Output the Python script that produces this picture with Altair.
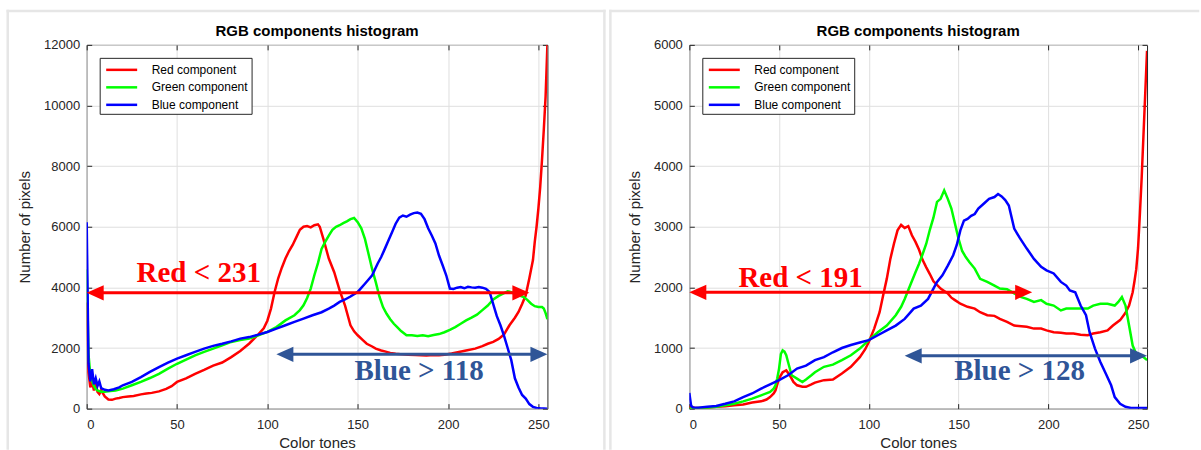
import altair as alt
import pandas as pd

SANS = "Liberation Sans"
SERIF = "Liberation Serif"
INK = "#262626"
GRID = "#dfdfdf"
FRAME = "#e6e6e6"

components = ["Red component", "Green component", "Blue component"]
component_colors = ["#ff0000", "#00ff00", "#0000ff"]
tone_ticks = [0, 50, 100, 150, 200, 250]
chart_title = "RGB components histogram"

# ---------------- first image: per-channel pixel counts ----------------
a_red_tone = [0, 1, 2, 3, 4, 5, 6, 7, 8, 10, 12, 14, 16, 18, 20, 23, 26, 30, 33, 36,
              40, 44, 47, 50, 55, 60, 65, 70, 75, 80, 85, 90, 95, 98, 100, 102, 104,
              106, 108, 110, 112, 114, 116, 118, 120, 122, 124, 126, 128, 129, 131,
              134, 137, 140, 143, 146, 148, 150, 153, 155, 158, 160, 163, 165, 168,
              171, 175, 178, 182, 185, 188, 192, 195, 198, 202, 206, 210, 215, 219,
              222, 225, 228, 231, 234, 237, 239, 241, 243, 245, 247, 248, 249, 250,
              251, 252, 253, 254, 255]
a_red_count = [3500, 1200, 700, 900, 600, 800, 550, 480, 600, 400, 300, 290, 330, 350,
               380, 400, 420, 470, 500, 520, 570, 650, 740, 880, 1000, 1150, 1280,
               1420, 1520, 1700, 1900, 2150, 2450, 2650, 2900, 3300, 3850, 4300, 4650,
               4950, 5200, 5400, 5650, 5900, 6000, 6020, 5980, 6050, 6080, 6000, 5600,
               4950, 4500, 3900, 3400, 2750, 2550, 2420, 2250, 2140, 2050, 1980, 1920,
               1890, 1840, 1810, 1790, 1780, 1770, 1760, 1750, 1770, 1760, 1780, 1820,
               1870, 1920, 1980, 2060, 2140, 2200, 2300, 2450, 2750, 3000, 3190, 3450,
               3740, 4300, 4900, 5500, 6000, 6600, 7300, 8200, 9200, 10300, 12000]

a_green_tone = [0, 1, 2, 3, 4, 5, 6, 8, 10, 13, 16, 20, 25, 30, 35, 40, 45, 50, 55, 60,
                65, 70, 75, 80, 85, 90, 95, 100, 105, 110, 115, 118, 120, 122, 124, 126,
                128, 130, 132, 134, 136, 138, 140, 142, 144, 146, 148, 150, 152, 154,
                156, 158, 160, 162, 164, 166, 168, 170, 172, 174, 177, 180, 183, 186,
                189, 192, 195, 198, 201, 204, 207, 210, 213, 216, 219, 222, 225, 228,
                231, 233, 235, 237, 240, 242, 244, 246, 248, 250, 252, 253, 254, 255]
a_green_count = [4600, 1800, 1100, 900, 750, 650, 600, 560, 560, 580, 600, 660, 770,
                 880, 1010, 1150, 1320, 1480, 1620, 1760, 1870, 1980, 2090, 2200, 2260,
                 2310, 2420, 2530, 2690, 2910, 3080, 3250, 3410, 3650, 3960, 4400, 4800,
                 5270, 5500, 5710, 5900, 6000, 6050, 6120, 6180, 6250, 6290, 6150, 5950,
                 5600, 5100, 4600, 4175, 3700, 3350, 3130, 2950, 2800, 2680, 2560, 2420,
                 2420, 2400, 2420, 2390, 2430, 2460, 2520, 2600, 2690, 2800, 2910, 3000,
                 3100, 3250, 3400, 3600, 3720, 3810, 3870, 3840, 3790, 3720, 3680, 3580,
                 3460, 3380, 3350, 3350, 3300, 3150, 2950]

a_blue_tone = [0, 1, 2, 3, 4, 5, 6, 7, 8, 10, 12, 15, 18, 20, 25, 30, 35, 40, 45, 50,
               55, 60, 65, 70, 75, 80, 85, 90, 95, 100, 105, 110, 115, 120, 125, 130,
               134, 137, 140, 143, 146, 150, 154, 158, 161, 163, 165, 167, 169, 171,
               173, 175, 177, 179, 181, 183, 185, 187, 189, 191, 193, 195, 197, 199,
               201, 203, 205, 207, 209, 211, 213, 215, 217, 219, 221, 223, 225, 227,
               229, 231, 233, 235, 237, 239, 241, 243, 245, 247, 249, 251, 253, 255]
a_blue_count = [6150, 1500, 900, 1300, 800, 1000, 750, 900, 680, 620, 600, 640, 700,
                770, 880, 1040, 1210, 1370, 1520, 1650, 1760, 1870, 1980, 2070, 2140,
                2220, 2310, 2360, 2440, 2530, 2640, 2750, 2860, 2970, 3080, 3180, 3300,
                3400, 3520, 3600, 3700, 3850, 4120, 4400, 4780, 5000, 5270, 5550, 5820,
                6100, 6300, 6370, 6330, 6400, 6450, 6470, 6430, 6250, 5950, 5710, 5450,
                5050, 4730, 4400, 3960, 3950, 3990, 4010, 3970, 4020, 4000, 3990, 4010,
                3990, 3950, 3850, 3450, 3050, 2750, 2400, 2000, 1600, 1000, 700, 450,
                330, 150, 60, 20, 10, 5, 0]

# ---------------- second image: per-channel pixel counts ----------------
b_red_tone = [0, 3, 6, 10, 15, 20, 25, 30, 35, 40, 43, 45, 47, 48, 49, 50, 52, 54, 56,
              58, 60, 63, 65, 68, 70, 75, 80, 85, 90, 95, 98, 100, 103, 106, 108, 110,
              112, 114, 116, 118, 120, 122, 124, 126, 128, 130, 132, 134, 136, 138,
              140, 142, 144, 146, 148, 151, 155, 159, 162, 166, 170, 173, 177, 181,
              185, 188, 192, 196, 199, 203, 207, 210, 214, 218, 222, 225, 229, 233,
              236, 240, 243, 245, 247, 248, 249, 250, 251, 252, 253, 254, 255]
b_red_count = [30, 15, 10, 15, 30, 40, 55, 70, 100, 120, 150, 190, 250, 300, 400, 500,
               600, 630, 550, 440, 385, 360, 360, 400, 430, 470, 480, 580, 690, 850,
               980, 1100, 1320, 1590, 1870, 2140, 2470, 2720, 2940, 3030, 2980, 3010,
               2860, 2750, 2620, 2450, 2330, 2220, 2100, 2040, 1980, 1940, 1900, 1830,
               1790, 1730, 1680, 1650, 1590, 1540, 1530, 1480, 1430, 1370, 1360, 1350,
               1320, 1320, 1290, 1260, 1250, 1240, 1240, 1220, 1210, 1240, 1260, 1290,
               1370, 1460, 1580, 1700, 1920, 2100, 2300, 2650, 3200, 3800, 4500, 5200,
               5900]

b_green_tone = [0, 5, 10, 15, 20, 25, 30, 35, 40, 45, 47, 48, 49, 50, 51, 52, 53, 54,
                55, 57, 60, 63, 65, 68, 70, 75, 80, 85, 90, 95, 100, 105, 110, 115, 118,
                120, 123, 126, 128, 130, 132, 134, 136, 138, 140, 142, 144, 146, 148,
                150, 152, 154, 156, 159, 162, 166, 170, 173, 177, 181, 185, 188, 192,
                196, 199, 203, 207, 210, 214, 218, 222, 225, 229, 233, 237, 239, 241,
                243, 245, 247, 249, 251, 253, 255]
b_green_count = [0, 10, 15, 30, 55, 80, 120, 165, 220, 275, 330, 385, 500, 660, 900,
                 960, 940, 880, 770, 550, 495, 440, 480, 550, 600, 690, 725, 800, 880,
                 990, 1130, 1260, 1370, 1540, 1680, 1810, 2030, 2250, 2390, 2550, 2720,
                 2950, 3150, 3410, 3460, 3600, 3460, 3300, 3050, 2800, 2600, 2500, 2420,
                 2310, 2140, 2090, 2030, 1980, 1970, 1900, 1840, 1810, 1760, 1790, 1730,
                 1700, 1620, 1650, 1650, 1650, 1650, 1700, 1730, 1730, 1700, 1760, 1840,
                 1700, 1370, 1040, 900, 880, 850, 800]

b_blue_tone = [0, 1, 2, 5, 10, 15, 20, 25, 30, 35, 40, 45, 50, 55, 60, 65, 70, 75, 80,
               85, 90, 95, 100, 105, 110, 115, 120, 125, 129, 133, 136, 138, 141, 144,
               147, 149, 151, 153, 155, 157, 159, 161, 164, 167, 170, 172, 174, 176,
               178, 181, 184, 188, 192, 196, 199, 203, 207, 210, 212, 215, 218, 221,
               223, 226, 229, 232, 235, 237, 240, 243, 246, 250, 255]
b_blue_count = [260, 50, 20, 15, 30, 45, 80, 120, 190, 250, 330, 400, 470, 550, 660,
                710, 800, 850, 930, 1000, 1050, 1090, 1130, 1210, 1290, 1370, 1480,
                1650, 1700, 1810, 1980, 2090, 2200, 2360, 2530, 2700, 2940, 3100, 3130,
                3180, 3210, 3300, 3380, 3460, 3490, 3540, 3500, 3440, 3350, 2970, 2820,
                2640, 2470, 2340, 2280, 2230, 2090, 2030, 1950, 1920, 1700, 1540, 1260,
                990, 770, 580, 385, 190, 80, 30, 10, 10, 10]

# ---------------- threshold annotations (double arrows + captions) ----------------
a_note_text = ["Red < 231", "Blue > 118"]
a_note_color = ["#ff0000", "#2f5597"]
a_note_from = [0, 105]
a_note_to = [245, 255]
a_note_level = [3820, 1790]
a_note_text_tone = [62, 184]
a_note_text_count = [4175, 929]

b_note_text = ["Red < 191", "Blue > 128"]
b_note_color = ["#ff0000", "#2f5597"]
b_note_from = [0, 120]
b_note_to = [191, 255]
b_note_level = [1918, 871]
b_note_text_tone = [62, 184]
b_note_text_count = [2011, 466]


def histogram_table(series):
    rows = []
    for name, tones, counts in series:
        rows += [{"tone": t, "count": c, "component": name} for t, c in zip(tones, counts)]
    return pd.DataFrame(rows)


def notes_table(text, color, start, end, level, tx, ty):
    return pd.DataFrame({"text": text, "color": color, "start": start, "end": end,
                         "level": level, "tx": tx, "ty": ty})


def panel(hist, notes, y_max, y_step, width, height, frame_right, frame_close):
    x_scale = alt.Scale(domain=[0, 255], nice=False, zero=False)
    y_scale = alt.Scale(domain=[0, y_max], nice=False, zero=True)
    y_ticks = list(range(0, y_max + 1, y_step))
    one = alt.Data(values=[{}])

    # light card border around each figure
    border = alt.Chart(one).mark_rule(color=FRAME, strokeWidth=2.5, strokeCap="square")
    frame_layers = [
        border.encode(x=alt.value(-79), y=alt.value(-34), y2=alt.value(404)),
        border.encode(x=alt.value(-79), x2=alt.value(frame_right), y=alt.value(-34)),
    ]
    if frame_close:
        frame_layers.append(
            border.encode(x=alt.value(frame_right), y=alt.value(-34), y2=alt.value(404)))

    heading = alt.Chart(one).mark_text(
        text=chart_title, font=SANS, fontSize=15, fontWeight="bold", color="black",
        align="center", baseline="alphabetic"
    ).encode(x=alt.value(width / 2), y=alt.value(-9))

    lines = alt.Chart(hist).mark_line(strokeWidth=2.5, clip=True).encode(
        x=alt.X("tone:Q", scale=x_scale,
                axis=alt.Axis(values=tone_ticks, orient="bottom", offset=-5, tickSize=5,
                              tickColor=INK, domain=False, labelFontSize=13,
                              labelColor=INK, labelFont=SANS, labelPadding=10,
                              title="Color tones", titleFontSize=15,
                              titleFontWeight="normal", titleColor=INK, titleFont=SANS,
                              titlePadding=4, grid=True, gridColor=GRID)),
        y=alt.Y("count:Q", scale=y_scale,
                axis=alt.Axis(values=y_ticks, format="d", orient="left", offset=-5,
                              tickSize=5, tickColor=INK, domain=False, labelFontSize=13,
                              labelColor=INK, labelFont=SANS, labelPadding=7,
                              title="Number of pixels", titleFontSize=15,
                              titleFontWeight="normal", titleColor=INK, titleFont=SANS,
                              titlePadding=11, grid=True, gridColor=GRID)),
        color=alt.Color("component:N",
                        scale=alt.Scale(domain=components, range=component_colors),
                        legend=alt.Legend(orient="none", legendX=13, legendY=13,
                                          title=None, fillColor="white",
                                          strokeColor=INK, padding=3, rowPadding=2.5,
                                          symbolType="M-2,0L2,0", symbolSize=240,
                                          symbolOffset=10, labelOffset=21,
                                          symbolStrokeWidth=2.5, labelFontSize=12,
                                          labelFont=SANS, labelColor="black")),
    )

    # arrow shafts carry the mirrored top / right tick marks of the box
    shafts = alt.Chart(notes).mark_rule(strokeWidth=3, xOffset=10, x2Offset=-10).encode(
        x=alt.X("start:Q", scale=x_scale,
                axis=alt.Axis(values=tone_ticks, orient="top", offset=-5, tickSize=5,
                              tickColor=INK, domain=False, labels=False, grid=False,
                              title=None)),
        x2="end:Q",
        y=alt.Y("level:Q", scale=y_scale,
                axis=alt.Axis(values=y_ticks, orient="right", offset=-5, tickSize=5,
                              tickColor=INK, domain=False, labels=False, grid=False,
                              title=None)),
        color=alt.Color("color:N", scale=None),
    )
    head_left = alt.Chart(notes).mark_point(
        shape="M0,0 L2,-0.9 L2,0.9 Z", size=289, filled=True, opacity=1, strokeWidth=0
    ).encode(
        x=alt.X("start:Q", scale=x_scale, axis=None),
        y=alt.Y("level:Q", scale=y_scale, axis=None),
        color=alt.Color("color:N", scale=None),
    )
    head_right = alt.Chart(notes).mark_point(
        shape="M0,0 L-2,-0.9 L-2,0.9 Z", size=289, filled=True, opacity=1, strokeWidth=0
    ).encode(
        x=alt.X("end:Q", scale=x_scale, axis=None),
        y=alt.Y("level:Q", scale=y_scale, axis=None),
        color=alt.Color("color:N", scale=None),
    )
    captions = alt.Chart(notes).mark_text(
        font=SERIF, fontWeight="bold", fontSize=29, align="center", baseline="alphabetic"
    ).encode(
        x=alt.X("tx:Q", scale=x_scale, axis=None),
        y=alt.Y("ty:Q", scale=y_scale, axis=None),
        text="text:N",
        color=alt.Color("color:N", scale=None),
    )

    return alt.layer(*frame_layers, heading, lines, shafts, head_left, head_right,
                     captions).resolve_axis(
        x="independent", y="independent"
    ).properties(width=width, height=height)


hist_a = histogram_table([
    ("Red component", a_red_tone, a_red_count),
    ("Green component", a_green_tone, a_green_count),
    ("Blue component", a_blue_tone, a_blue_count),
])
hist_b = histogram_table([
    ("Red component", b_red_tone, b_red_count),
    ("Green component", b_green_tone, b_green_count),
    ("Blue component", b_blue_tone, b_blue_count),
])
notes_a = notes_table(a_note_text, a_note_color, a_note_from, a_note_to, a_note_level,
                      a_note_text_tone, a_note_text_count)
notes_b = notes_table(b_note_text, b_note_color, b_note_from, b_note_to, b_note_level,
                      b_note_text_tone, b_note_text_count)

left = panel(hist_a, notes_a, 12000, 2000, 461, 364, 518, True)
right = panel(hist_b, notes_b, 6000, 1000, 458, 364, 509, False)

chart = alt.hconcat(left, right, spacing=142, bounds="flush").resolve_scale(
    color="independent"
).configure(
    font=SANS,
    padding={"left": 4.75, "top": 7.75, "right": 0, "bottom": 0},
    background="white",
).configure_view(
    stroke=INK, strokeWidth=1
)

chart.save("out.html", embed_options={"renderer": "svg", "actions": False})
